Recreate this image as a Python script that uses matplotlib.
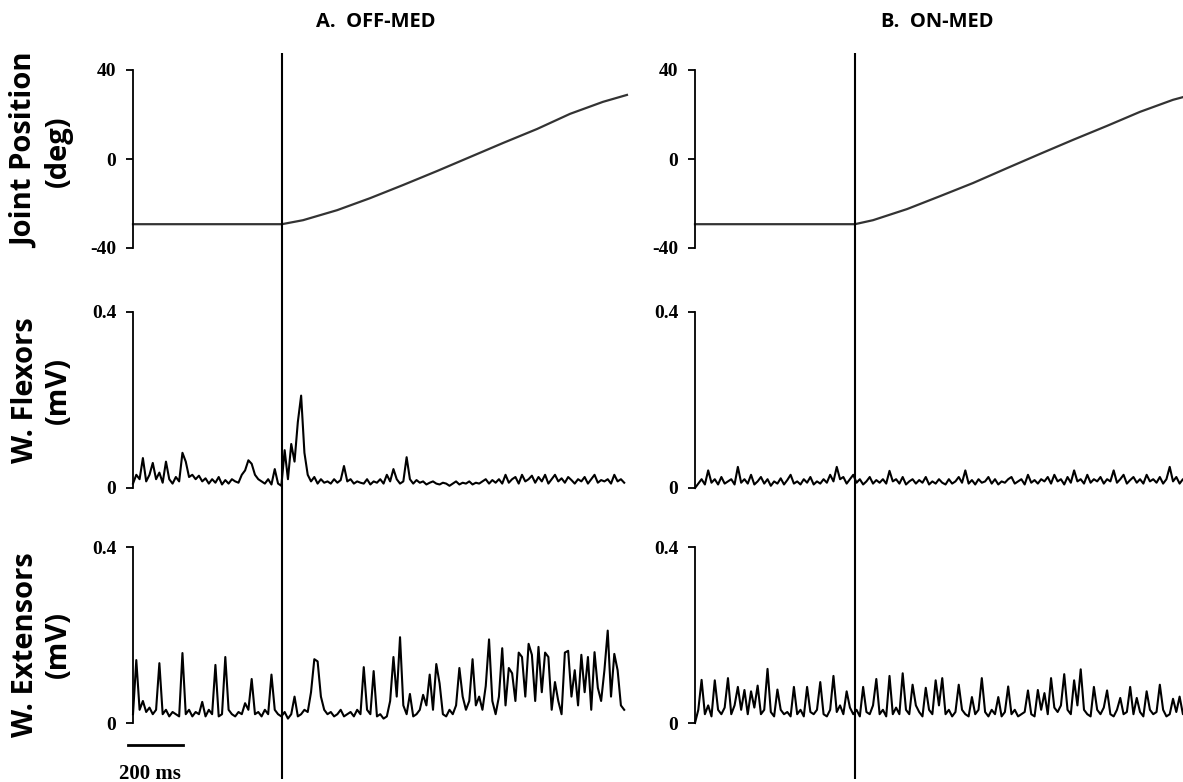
import numpy as np
import matplotlib.pyplot as plt

# ---- data ----
# joint position, deg  (time in ms)
pos_t_off = [0, 542, 619, 743, 863, 983, 1107, 1227, 1347, 1471, 1591, 1711, 1798]
pos_off = [-29.3, -29.3, -27.5, -23.0, -17.6, -11.7, -5.4, 0.9, 7.2, 13.5, 20.3, 25.7, 28.8]
pos_t_on = [0, 582, 648, 772, 892, 1012, 1136, 1256, 1376, 1500, 1620, 1740, 1800]
pos_on = [-29.3, -29.3, -27.5, -22.5, -16.7, -10.8, -4.1, 2.3, 8.6, 14.9, 21.2, 26.6, 28.6]

onset_off = 542
onset_on = 582

# EMG, mV, one sample every 12 ms
flex_off = [0.01, 0.03, 0.02, 0.068, 0.015, 0.03, 0.057, 0.02, 0.035, 0.012, 0.06, 0.02, 0.01, 0.025, 0.015,
            0.08, 0.06, 0.025, 0.03, 0.02, 0.028, 0.015, 0.022, 0.01, 0.02, 0.012, 0.025, 0.008, 0.018, 0.01,
            0.02, 0.015, 0.012, 0.03, 0.04, 0.063, 0.055, 0.03, 0.02, 0.015, 0.01, 0.02, 0.008, 0.043, 0.01,
            0.005, 0.086, 0.02, 0.1, 0.06, 0.15, 0.21, 0.08, 0.03, 0.015, 0.025, 0.01, 0.02, 0.012, 0.015,
            0.01, 0.02, 0.012, 0.018, 0.05, 0.015, 0.02, 0.01, 0.015, 0.012, 0.01, 0.02, 0.008, 0.015, 0.012,
            0.02, 0.01, 0.03, 0.015, 0.043, 0.02, 0.01, 0.015, 0.07, 0.02, 0.01, 0.018, 0.012, 0.015, 0.008,
            0.012, 0.015, 0.01, 0.008, 0.012, 0.01, 0.005, 0.01, 0.015, 0.008, 0.012, 0.01, 0.015, 0.008, 0.012,
            0.01, 0.015, 0.02, 0.01, 0.018, 0.012, 0.02, 0.01, 0.03, 0.012, 0.02, 0.025, 0.01, 0.03, 0.015,
            0.02, 0.028, 0.012, 0.025, 0.015, 0.03, 0.01, 0.02, 0.03, 0.015, 0.022, 0.012, 0.025, 0.018, 0.01,
            0.02, 0.015, 0.025, 0.01, 0.02, 0.03, 0.012, 0.018, 0.015, 0.02, 0.01, 0.03, 0.015, 0.02, 0.012]

ext_off = [0.02, 0.143, 0.03, 0.05, 0.025, 0.035, 0.02, 0.03, 0.136, 0.02, 0.03, 0.015, 0.025, 0.02, 0.015,
           0.159, 0.02, 0.03, 0.015, 0.025, 0.02, 0.048, 0.015, 0.03, 0.02, 0.132, 0.015, 0.02, 0.15, 0.03,
           0.02, 0.015, 0.025, 0.02, 0.045, 0.03, 0.1, 0.02, 0.025, 0.015, 0.03, 0.02, 0.11, 0.03, 0.02,
           0.015, 0.025, 0.01, 0.02, 0.06, 0.015, 0.02, 0.03, 0.025, 0.07, 0.145, 0.14, 0.06, 0.03, 0.02,
           0.025, 0.015, 0.02, 0.03, 0.015, 0.02, 0.025, 0.015, 0.03, 0.02, 0.127, 0.03, 0.02, 0.118, 0.015,
           0.02, 0.01, 0.015, 0.05, 0.15, 0.06, 0.195, 0.04, 0.02, 0.066, 0.015, 0.02, 0.03, 0.064, 0.04,
           0.11, 0.03, 0.134, 0.09, 0.02, 0.015, 0.03, 0.02, 0.04, 0.125, 0.06, 0.03, 0.05, 0.145, 0.04,
           0.06, 0.03, 0.084, 0.19, 0.05, 0.02, 0.06, 0.17, 0.04, 0.125, 0.113, 0.05, 0.16, 0.15, 0.06,
           0.18, 0.155, 0.05, 0.173, 0.07, 0.16, 0.15, 0.03, 0.093, 0.05, 0.02, 0.16, 0.164, 0.06, 0.12,
           0.04, 0.155, 0.07, 0.15, 0.03, 0.161, 0.08, 0.05, 0.12, 0.21, 0.06, 0.157, 0.12, 0.04, 0.03]

flex_on = [0.0, 0.01, 0.02, 0.008, 0.04, 0.012, 0.02, 0.008, 0.025, 0.01, 0.015, 0.02, 0.008, 0.048, 0.012,
           0.02, 0.01, 0.03, 0.008, 0.015, 0.025, 0.01, 0.02, 0.005, 0.015, 0.01, 0.022, 0.008, 0.018, 0.03,
           0.01, 0.015, 0.008, 0.02, 0.012, 0.025, 0.008, 0.015, 0.01, 0.02, 0.012, 0.03, 0.015, 0.048, 0.02,
           0.025, 0.01, 0.02, 0.03, 0.012, 0.02, 0.008, 0.015, 0.025, 0.01, 0.018, 0.012, 0.02, 0.01, 0.039,
           0.015, 0.02, 0.01, 0.025, 0.008, 0.015, 0.02, 0.01, 0.018, 0.012, 0.025, 0.008, 0.015, 0.01, 0.02,
           0.012, 0.008, 0.02, 0.01, 0.015, 0.025, 0.012, 0.04, 0.01, 0.018, 0.008, 0.02, 0.012, 0.015, 0.025,
           0.01, 0.02, 0.008, 0.015, 0.012, 0.02, 0.025, 0.01, 0.015, 0.02, 0.008, 0.03, 0.012, 0.018, 0.01,
           0.02, 0.015, 0.025, 0.01, 0.03, 0.015, 0.02, 0.008, 0.025, 0.012, 0.04, 0.015, 0.02, 0.01, 0.03,
           0.012, 0.02, 0.015, 0.025, 0.01, 0.02, 0.015, 0.04, 0.012, 0.02, 0.03, 0.01, 0.018, 0.025, 0.012,
           0.02, 0.01, 0.03, 0.015, 0.02, 0.012, 0.025, 0.01, 0.02, 0.048, 0.015, 0.025, 0.01, 0.02, 0.015]

ext_on = [0.0, 0.03, 0.098, 0.02, 0.04, 0.015, 0.097, 0.03, 0.02, 0.035, 0.102, 0.02, 0.04, 0.082, 0.03,
          0.075, 0.02, 0.072, 0.035, 0.085, 0.02, 0.03, 0.123, 0.025, 0.015, 0.076, 0.03, 0.02, 0.025, 0.015,
          0.082, 0.02, 0.03, 0.015, 0.082, 0.025, 0.02, 0.03, 0.093, 0.02, 0.015, 0.03, 0.107, 0.025, 0.04,
          0.02, 0.072, 0.035, 0.02, 0.03, 0.015, 0.082, 0.025, 0.02, 0.04, 0.1, 0.02, 0.03, 0.015, 0.107,
          0.02, 0.035, 0.02, 0.113, 0.03, 0.02, 0.087, 0.04, 0.025, 0.015, 0.08, 0.03, 0.02, 0.097, 0.04,
          0.102, 0.02, 0.03, 0.015, 0.025, 0.087, 0.03, 0.02, 0.015, 0.059, 0.02, 0.03, 0.102, 0.025, 0.015,
          0.03, 0.02, 0.059, 0.015, 0.025, 0.083, 0.02, 0.03, 0.015, 0.02, 0.025, 0.074, 0.02, 0.015, 0.075,
          0.03, 0.068, 0.02, 0.102, 0.035, 0.025, 0.04, 0.111, 0.03, 0.02, 0.097, 0.04, 0.122, 0.03, 0.02,
          0.015, 0.082, 0.03, 0.02, 0.035, 0.074, 0.02, 0.015, 0.03, 0.057, 0.02, 0.025, 0.082, 0.02, 0.057,
          0.025, 0.015, 0.072, 0.03, 0.02, 0.025, 0.087, 0.03, 0.015, 0.02, 0.055, 0.025, 0.06, 0.02, 0.03]

emg_t = np.arange(len(flex_off)) * 12

titles = ['A.  OFF-MED', 'B.  ON-MED']
row_labels = ['Joint Position\n(deg)', 'W. Flexors\n(mV)', 'W. Extensors\n(mV)']
scale_ms = 200

# ---- layout ----
W, H = 1183, 782
fig = plt.figure(figsize=(W / 100, H / 100), dpi=100)

T_END = 1800
col_x = [133, 695]
col_w = 494.5
rows = [(70, 248), (312, 488), (547, 723)]  # top, bottom in px

serif = 'Liberation Serif'
sans = 'Open Sans'


def make_ax(x0, top, bot):
    ax = fig.add_axes([x0 / W, 1 - bot / H, col_w / W, (bot - top) / H])
    for s in ['top', 'right', 'bottom']:
        ax.spines[s].set_visible(False)
    ax.spines['left'].set_linewidth(1.3)
    ax.set_xticks([])
    ax.set_xlim(0, T_END)
    ax.tick_params(axis='y', direction='out', length=5, width=1.3, pad=7)
    ax.patch.set_alpha(0)
    return ax


cols = [
    (pos_t_off, pos_off, flex_off, ext_off, onset_off),
    (pos_t_on, pos_on, flex_on, ext_on, onset_on),
]

for c, (pt, pv, fl, ex, onset) in enumerate(cols):
    x0 = col_x[c]
    ax1 = make_ax(x0, *rows[0])
    ax1.plot(pt, pv, color='#333333', lw=1.6, clip_on=False)
    ax1.set_ylim(-40, 40)
    ax1.set_yticks([-40, 0, 40])
    ax1.set_yticklabels(['-40', '0', '40'])

    ax2 = make_ax(x0, *rows[1])
    ax2.plot(emg_t, fl, color='black', lw=1.5, clip_on=False)
    ax2.set_ylim(0, 0.4)
    ax2.set_yticks([0, 0.4])
    ax2.set_yticklabels(['0', '0.4'])

    ax3 = make_ax(x0, *rows[2])
    ax3.plot(emg_t, ex, color='black', lw=1.5, clip_on=False)
    ax3.set_ylim(0, 0.4)
    ax3.set_yticks([0, 0.4])
    ax3.set_yticklabels(['0', '0.4'])

    for ax in (ax1, ax2, ax3):
        for lab in ax.get_yticklabels():
            lab.set_fontfamily(serif)
            lab.set_fontweight('bold')
            lab.set_fontsize(14)

    # movement onset line across the column
    ov = fig.add_axes([x0 / W, 1 - 779 / H, col_w / W, (779 - 53) / H])
    ov.set_xlim(0, T_END)
    ov.set_ylim(0, 1)
    ov.axis('off')
    ov.axvline(onset, color='black', lw=1.5)

    fig.text((x0 + col_w / 2 - 5) / W, 1 - 22 / H, titles[c], ha='center', va='center',
             fontsize=14.5, fontweight='bold', family=sans)

    if c == 0:
        # 200 ms scale bar under the extensor trace
        ax3.plot([-18, -18 + scale_ms], [-0.05, -0.05], color='black', lw=2, clip_on=False)
        ax3.text(-18 + scale_ms / 2 - 20, -0.115, '200 ms', ha='center', va='center',
                 fontsize=15, fontweight='bold', family=serif, clip_on=False)

# row labels
label_y = [151, 390, 645]
for lab, yy in zip(row_labels, label_y):
    fig.text(42 / W, 1 - yy / H, lab, rotation=90, ha='center', va='center',
             multialignment='center', linespacing=1.2,
             fontsize=21, fontweight='bold', family=sans)

fig.savefig('out.png', dpi=100, facecolor='white')
